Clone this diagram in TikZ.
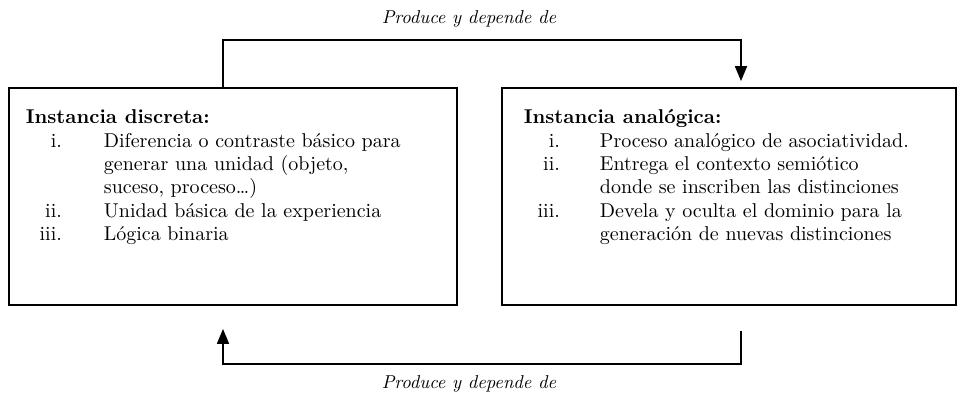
\documentclass[tikz,border=0pt]{standalone}
\usepackage{fontspec}
\setmainfont{lmroman10}[Extension=.otf, UprightFont=*-regular, BoldFont=*-bold, ItalicFont=*-italic, BoldItalicFont=*-bolditalic]
\usepackage{array}
\usepackage{tikz}
\usetikzlibrary{positioning}
\usetikzlibrary{arrows.meta}

\newcolumntype{N}{>{\raggedleft\arraybackslash}p{36pt}}

\begin{document}
\begin{tikzpicture}[x=1pt, y=1pt, line width=1.8pt, >={Triangle[length=15pt, width=12pt]}]
        \useasboundingbox (0,0) rectangle (957,394);
        \tikzset{instancia/.style={draw, rectangle, inner sep=0pt, minimum height=217pt},
                 lista/.style={anchor=base west, inner sep=0pt, font=\fontsize{20}{23.3}\selectfont},
                 etiqueta/.style={inner sep=0pt, font=\fontsize{18.6}{20}\selectfont\itshape}}

        \node[instancia, minimum width=448pt] (discreta) at (233,197.5) {};
        \node[instancia, minimum width=454pt] (analogica) at (729,197.5) {};

        \node[lista] (discreta text) at (25,270) {\begin{tabular}[t]{@{}N@{\hspace{42pt}}l@{}}
            \multicolumn{2}{@{}l@{}}{\textbf{Instancia discreta:}} \\
            i.   & Diferencia o contraste básico para \\
                 & generar una unidad (objeto, \\
                 & suceso, proceso\ldots) \\
            ii.  & Unidad básica de la experiencia \\
            iii. & Lógica binaria
        \end{tabular}};
        \node[lista] (analogica text) at (523,270) {\begin{tabular}[t]{@{}N@{\hspace{40pt}}l@{}}
            \multicolumn{2}{@{}l@{}}{\textbf{Instancia analógica:}} \\
            i.   & Proceso analógico de asociatividad. \\
            ii.  & Entrega el contexto semiótico \\
                 & donde se inscriben las distinciones \\
            iii. & Devela y oculta el dominio para la \\
                 & generación de nuevas distinciones
        \end{tabular}};

        \node[etiqueta] (arriba) at (469,375) {Produce y depende de};
        \node[etiqueta] (abajo) at (469,10) {Produce y depende de};

        % conectores
        \draw[->, shorten >=6pt] ([xshift=-10pt]discreta.north) -- ++(0,47) -| ([xshift=12pt]analogica.north);
        \draw[->, shorten <=25pt, shorten >=23pt] ([xshift=12pt]analogica.south) -- ++(0,-58) -| ([xshift=-10pt]discreta.south);
    \end{tikzpicture}
\end{document}
